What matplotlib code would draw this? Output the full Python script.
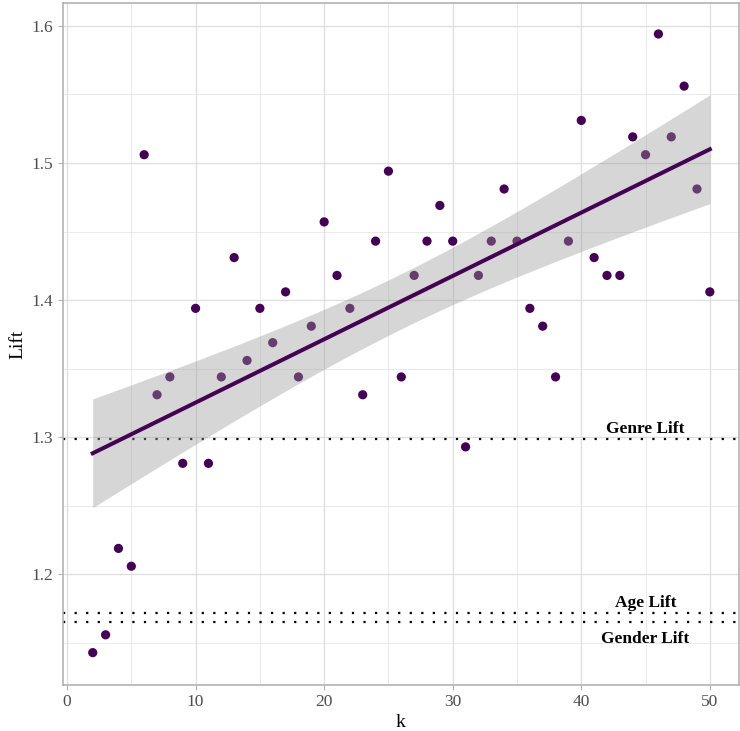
import numpy as np
import matplotlib
matplotlib.use('Agg')
import matplotlib.pyplot as plt
from matplotlib.ticker import MultipleLocator

plt.rcParams['font.family'] = ['Liberation Serif', 'DejaVu Serif']

# k values and observed lift
k = np.arange(2, 51)
lift = [1.143, 1.156, 1.219, 1.206, 1.506, 1.331, 1.344, 1.281, 1.394, 1.281,
        1.344, 1.431, 1.356, 1.394, 1.369, 1.406, 1.344, 1.381, 1.457, 1.418,
        1.394, 1.331, 1.443, 1.494, 1.344, 1.418, 1.443, 1.469, 1.443, 1.293,
        1.418, 1.443, 1.481, 1.443, 1.394, 1.381, 1.344, 1.443, 1.531, 1.431,
        1.418, 1.418, 1.519, 1.506, 1.594, 1.519, 1.556, 1.481, 1.406]
lift = np.array(lift)

# baseline lifts
ref_names = ['Genre Lift', 'Age Lift', 'Gender Lift']
ref_values = [1.2985, 1.1716, 1.1654]
ref_label_y = [1.306, 1.1795, 1.1531]

point_col = '#440154'

fig = plt.figure(figsize=(7.4, 7.31), dpi=100)
ax = fig.add_axes([0.0845, 0.0629, 0.914, 0.933])

# linear fit with 95% confidence band (like geom_smooth(method='lm'))
n = len(k)
slope, icpt = np.polyfit(k, lift, 1)
resid = lift - (slope * k + icpt)
s = np.sqrt(np.sum(resid**2) / (n - 2))
xg = np.linspace(k.min(), k.max(), 200)
yg = slope * xg + icpt
se = s * np.sqrt(1 / n + (xg - k.mean())**2 / np.sum((k - k.mean())**2))
tcrit = 2.0117  # t(0.975, df=47)

ax.scatter(k, lift, s=44, color=point_col, edgecolors='none', zorder=3)
ax.fill_between(xg, yg - tcrit * se, yg + tcrit * se, color='#999999', alpha=0.4,
                linewidth=0, zorder=4)
ax.plot(xg, yg, color=point_col, linewidth=2.9, zorder=5)

for name, val, ly in zip(ref_names, ref_values, ref_label_y):
    ax.axhline(val, color='black', linestyle=(0, (1, 4.2)), linewidth=1.6, zorder=2)
    ax.text(45, ly, name, ha='center', va='center', fontsize=12.5,
            fontweight='bold', color='black', zorder=6)

ax.set_xlim(-0.35, 52.26)
ax.set_ylim(1.1194, 1.6166)
ax.xaxis.set_major_locator(MultipleLocator(10))
ax.xaxis.set_minor_locator(MultipleLocator(5))
ax.yaxis.set_major_locator(MultipleLocator(0.1))
ax.yaxis.set_minor_locator(MultipleLocator(0.05))
ax.yaxis.set_major_formatter(matplotlib.ticker.FormatStrFormatter('%.1f'))

ax.grid(which='major', color='#dedede', linewidth=0.9, zorder=0)
ax.grid(which='minor', color='#e6e6e6', linewidth=0.6, zorder=0)
ax.set_axisbelow(True)
for sp in ax.spines.values():
    sp.set_color('#b3b3b3')
    sp.set_linewidth(1.2)
ax.tick_params(which='major', length=3.5, color='#b3b3b3', labelsize=12.5,
               labelcolor='#4d4d4d', pad=3)
ax.tick_params(which='minor', length=0)

ax.set_xlabel('k', fontsize=14, labelpad=3)
ax.set_ylabel('Lift', fontsize=14, labelpad=4)

fig.savefig('out.png', dpi=100)
